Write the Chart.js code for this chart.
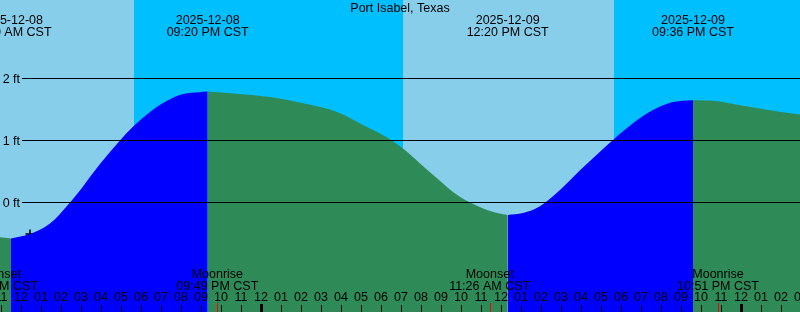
<!DOCTYPE html>
<html>
<head>
<meta charset="utf-8">
<title>Port Isabel, Texas</title>
<script src="https://cdn.jsdelivr.net/npm/chart.js@4.4.1/dist/chart.umd.min.js"></script>
<style>
    html, body { margin: 0; padding: 0; background: #87ceeb; overflow: hidden; }
    .wrap { position: relative; width: 800px; height: 312px; }
</style>
</head>
<body>
<div class="wrap"><canvas id="tideChart"></canvas></div>
<script>
// hours are counted from midnight 2025-12-09 (CST)
const stationName = 'Port Isabel, Texas';

// tide level
const tideHours = [-13.05, -12.5, -11.55, -10.55, -9.55, -8.9, -8.05, -7.05, -6.4, -5.55, -4.7, -3.9, -3.05,
    -2.667, -1.4, 0.45, 2.1, 3.8, 5.1, 6.3, 7.1, 7.95, 8.8, 9.6, 10.45, 11.3, 12.1,
    12.333, 13.1, 13.95, 14.95, 15.95, 16.95, 17.6, 18.6, 19.6, 20.6,
    21.6, 22.6, 23.95, 25.6, 26.95];
const tideFeet = [-0.56, -0.58, -0.51, -0.34, 0.00, 0.26, 0.62, 1.00, 1.22, 1.46, 1.64, 1.75, 1.78,
    1.79, 1.76, 1.70, 1.60, 1.46, 1.25, 1.05, 0.87, 0.63, 0.39, 0.17, 0.00, -0.12, -0.19,
    -0.20, -0.17, -0.06, 0.20, 0.52, 0.82, 1.01, 1.28, 1.49, 1.62,
    1.65, 1.64, 1.57, 1.48, 1.42];

// high / low tides
const extremeHours = [-12.5, -2.667, 12.333, 21.6];
const extremeTypes = ['low', 'high', 'low', 'high'];
const extremeDates = ['2025-12-08', '2025-12-08', '2025-12-09', '2025-12-09'];
const extremeTimes = ['11:30 AM CST', '09:20 PM CST', '12:20 PM CST', '09:36 PM CST'];

// sun and moon
const sunHours = [-6.35, 7.1, 17.65];
const sunTypes = ['set', 'rise', 'set'];
const moonHours = [-13.2, -2.183, 11.433, 22.85];
const moonEvents = ['Moonset', 'Moonrise', 'Moonset', 'Moonrise'];
const moonTimes = ['10:48 AM CST', '09:49 PM CST', '11:26 AM CST', '10:51 PM CST'];

// current time marker
const nowHour = [-11.55];
const nowFeet = [-0.51];

// axes
const hourTicks = [-13, -12, -11, -10, -9, -8, -7, -6, -5, -4, -3, -2, -1, 0, 1, 2, 3, 4, 5, 6, 7, 8, 9, 10,
    11, 12, 13, 14, 15, 16, 17, 18, 19, 20, 21, 22, 23, 24, 25, 26, 27];
const hourLabels = ['11', '12', '01', '02', '03', '04', '05', '06', '07', '08', '09', '10', '11', '12',
    '01', '02', '03', '04', '05', '06', '07', '08', '09', '10', '11', '12',
    '01', '02', '03', '04', '05', '06', '07', '08', '09', '10', '11', '12', '01', '02', '03'];
const midnightHours = [0, 24];
const feetTicks = [0, 1, 2];
const feetLabels = ['0 ft', '1 ft', '2 ft'];

const xMin = -13.05, xMax = 26.95;
const yMax = 202.5 / 62, yMin = yMax - 312 / 62;

const FONT = '12.5px "Liberation Sans", Arial, sans-serif';
const DAY = '#87ceeb', NIGHT = '#00bfff', RISING = '#0000ff', FALLING = '#2e8b57';

// one filled dataset per rising / falling stretch
const edges = [xMin, ...extremeHours, xMax];
const phaseSets = [];
for (let i = 0; i < edges.length - 1; i++) {
    const rising = i < extremeTypes.length ? extremeTypes[i] === 'high' : extremeTypes[i - 1] === 'low';
    const pts = [];
    tideHours.forEach((h, j) => {
        if (h >= edges[i] - 1e-6 && h <= edges[i + 1] + 1e-6) pts.push({ x: h, y: tideFeet[j] });
    });
    phaseSets.push({
        data: pts,
        fill: 'start',
        backgroundColor: rising ? RISING : FALLING,
        borderWidth: 0,
        pointRadius: 0,
        cubicInterpolationMode: 'monotone',
    });
}

const tideDecor = {
    id: 'tideDecor',
    beforeDatasetsDraw(chart) {
        const { ctx, chartArea: area, scales: { x } } = chart;
        const bands = [xMin, ...sunHours, xMax];
        for (let i = 0; i < bands.length - 1; i++) {
            const isDay = i < sunTypes.length ? sunTypes[i] === 'set' : sunTypes[i - 1] === 'rise';
            const x0 = Math.round(x.getPixelForValue(bands[i]));
            const x1 = Math.round(x.getPixelForValue(bands[i + 1]));
            ctx.fillStyle = isDay ? DAY : NIGHT;
            ctx.fillRect(x0, area.top, x1 - x0, area.bottom - area.top);
        }
    },
    afterDatasetsDraw(chart) {
        const { ctx, chartArea: area, scales: { x, y } } = chart;
        ctx.save();
        ctx.font = FONT;
        ctx.fillStyle = '#000';
        ctx.textBaseline = 'alphabetic';

        // level lines
        feetTicks.forEach((v, i) => {
            const py = y.getPixelForValue(v);
            ctx.fillRect(22, Math.floor(py), area.right - 22, 1);
            ctx.textAlign = 'right';
            ctx.fillText(feetLabels[i], 20, Math.floor(py) + 5);
        });

        ctx.textAlign = 'center';
        ctx.fillText(stationName, 400, 12);

        extremeHours.forEach((h, i) => {
            const px = x.getPixelForValue(h);
            ctx.fillText(extremeDates[i], px, 24);
            ctx.fillText(extremeTimes[i], px, 36);
        });

        moonHours.forEach((h, i) => {
            const px = x.getPixelForValue(h);
            ctx.fillText(moonEvents[i], px, 278);
            ctx.fillText(moonTimes[i], px, 290);
        });

        hourTicks.forEach((h, i) => {
            const px = Math.round(x.getPixelForValue(h));
            ctx.fillStyle = '#000';
            ctx.fillText(hourLabels[i], px, 301);
            if (midnightHours.includes(h)) {
                ctx.fillRect(px - 1, 304, 3, 8);
            } else {
                ctx.fillRect(px, 305, 1, 7);
            }
        });

        ctx.fillStyle = '#ff0000';
        moonHours.forEach(h => {
            const px = Math.round(x.getPixelForValue(h));
            ctx.fillRect(px, 303, 1, 9);
        });
        ctx.restore();
    }
};

const ctx = document.getElementById('tideChart').getContext('2d');
new Chart(ctx, {
    type: 'line',
    data: {
        datasets: [
            ...phaseSets,
            {
                type: 'scatter',
                data: nowHour.map((h, i) => ({ x: h, y: nowFeet[i] })),
                pointStyle: 'cross',
                pointRadius: 4.5,
                borderColor: '#000',
                borderWidth: 1.5,
                backgroundColor: '#000',
            },
        ],
    },
    options: {
        responsive: true,
        maintainAspectRatio: false,
        animation: false,
        layout: { padding: 0, autoPadding: false },
        plugins: { legend: { display: false }, tooltip: { enabled: false } },
        events: [],
        scales: {
            x: { type: 'linear', min: xMin, max: xMax, display: false },
            y: { min: yMin, max: yMax, display: false },
        },
    },
    plugins: [tideDecor],
});
</script>
</body>
</html>
